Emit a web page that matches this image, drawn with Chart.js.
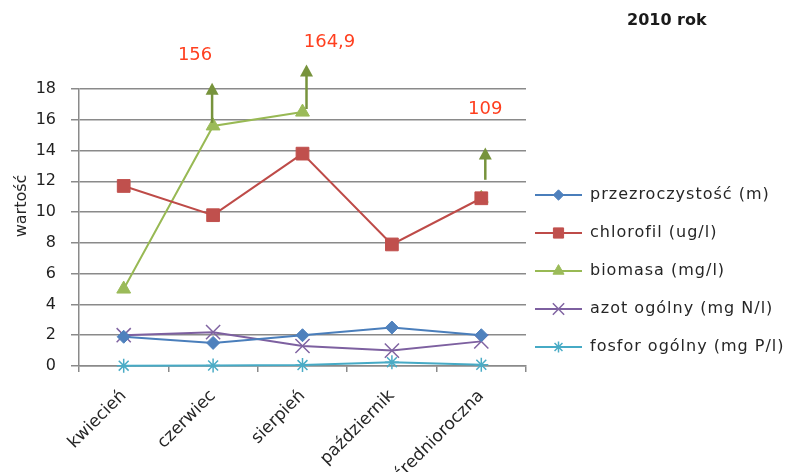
<!DOCTYPE html>
<html>
<head>
<meta charset="utf-8">
<script src="https://cdn.jsdelivr.net/npm/chart.js@4.4.1/dist/chart.umd.min.js"></script>
<style>
  html, body { margin: 0; padding: 0; background: #ffffff; }
  canvas { display: block; }
</style>
</head>
<body>
<canvas id="chart" width="796" height="472"></canvas>
<script>
// Categories (months of sampling + annual mean)
const categories = ['kwiecień', 'czerwiec', 'sierpień', 'październik', 'średnioroczna'];

// Measured series
const przezroczystosc = [1.9, 1.5, 2.0, 2.5, 2.0];
const chlorofil       = [11.7, 9.8, 13.8, 7.9, 10.9];
const biomasa         = [5.0, 15.6, 16.5, null, 10.9];
const azotOgolny      = [2.0, 2.2, 1.3, 1.0, 1.6];
const fosforOgolny    = [0.02, 0.03, 0.06, 0.25, 0.08];

// Biomass values that run past the axis, shown as arrows with their real value
const biomasaPozaSkala = [null, '156', '164,9', null, '109'];
const strzalkaOd       = [null, 15.8, 16.7, null, 12.1];
const strzalkaDo       = [null, 18.4, 19.6, null, 14.2];

// Axis range
const yMin = 0, yMax = 18, yStep = 2;

// Placement of the arrows and their labels (pixels / axis units)
const arrowLayout = [
  null,
  { dx: -1, labelDx: -18, labelY: 20.2 },
  { dx: 4,  labelDx: 27,  labelY: 21.05 },
  null,
  { dx: 4,  labelDx: 4,   labelY: 16.7 }
];

const FONT = 'DejaVu Sans';
Chart.defaults.font.family = FONT;
Chart.defaults.color = '#262626';

const series = [
  { label: 'przezroczystość (m)', data: przezroczystosc, color: '#4A7EBB', fill: '#4F81BD', style: 'rectRot', r: 6.5, bw: 1 },
  { label: 'chlorofil (ug/l)',    data: chlorofil,       color: '#BE4B48', fill: '#C0504D', style: 'rect',    r: 9,   bw: 1 },
  { label: 'biomasa (mg/l)',      data: biomasa,         color: '#98B954', fill: '#9BBB59', style: 'triangle', r: 8,  bw: 1 },
  { label: 'azot ogólny (mg N/l)',data: azotOgolny,      color: '#7D60A0', fill: '#8064A2', style: 'crossRot', r: 10, bw: 1.5 },
  { label: 'fosfor ogólny (mg P/l)', data: fosforOgolny, color: '#46AAC5', fill: '#4BACC6', style: 'star',    r: 7,   bw: 1.5 }
];

const datasets = series.map(s => ({
  label: s.label,
  data: s.data,
  borderColor: s.color,
  backgroundColor: s.fill,
  borderWidth: 2,
  pointStyle: s.style,
  pointRadius: s.r,
  pointBorderWidth: s.bw,
  pointBackgroundColor: s.fill,
  pointBorderColor: s.fill,
  tension: 0,
  spanGaps: false,
  clip: false
}));

const decorations = {
  id: 'decorations',
  afterDatasetsDraw(chart) {
    const ctx = chart.ctx;
    const xs = chart.scales.x, ys = chart.scales.y;
    ctx.save();
    // arrows for off-scale biomass values
    const arrowColor = '#77933C';
    biomasaPozaSkala.forEach((txt, i) => {
      if (txt === null) return;
      const lay = arrowLayout[i];
      const x = xs.getPixelForValue(i) + lay.dx;
      const yFrom = ys.getPixelForValue(strzalkaOd[i]);
      const yTip = ys.getPixelForValue(strzalkaDo[i]);
      const headH = 12, headW = 13;
      ctx.strokeStyle = arrowColor;
      ctx.lineWidth = 2.5;
      ctx.beginPath();
      ctx.moveTo(x, yFrom);
      ctx.lineTo(x, yTip + headH - 1);
      ctx.stroke();
      ctx.fillStyle = arrowColor;
      ctx.beginPath();
      ctx.moveTo(x, yTip);
      ctx.lineTo(x - headW / 2, yTip + headH);
      ctx.lineTo(x + headW / 2, yTip + headH);
      ctx.closePath();
      ctx.fill();
      // value label
      ctx.fillStyle = '#FF3F1F';
      ctx.font = '18px "' + FONT + '"';
      ctx.textAlign = 'center';
      ctx.textBaseline = 'middle';
      ctx.fillText(txt, xs.getPixelForValue(i) + lay.labelDx, ys.getPixelForValue(lay.labelY));
    });
    ctx.restore();
  },
  afterDraw(chart) {
    const ctx = chart.ctx;
    ctx.save();
    // title
    ctx.fillStyle = '#1a1a1a';
    ctx.font = 'bold 16px "' + FONT + '"';
    ctx.textAlign = 'left';
    ctx.textBaseline = 'middle';
    ctx.fillText('2010 rok', 627, 21);

    // y axis title
    ctx.save();
    ctx.translate(22, 206);
    ctx.rotate(-Math.PI / 2);
    ctx.font = '16px "' + FONT + '"';
    ctx.textAlign = 'center';
    ctx.textBaseline = 'middle';
    ctx.fillStyle = '#262626';
    ctx.fillText('wartość', 0, 0);
    ctx.restore();

    // legend
    const lx0 = 535, lx1 = 582, tx = 590, y0 = 195, dy = 38;
    series.forEach((s, i) => {
      const y = y0 + i * dy;
      ctx.strokeStyle = s.color;
      ctx.lineWidth = 2;
      ctx.beginPath();
      ctx.moveTo(lx0, y);
      ctx.lineTo(lx1, y);
      ctx.stroke();
      ctx.fillStyle = s.fill;
      ctx.strokeStyle = s.fill;
      ctx.lineWidth = s.bw;
      Chart.helpers.drawPoint(ctx, { pointStyle: s.style, radius: s.r * 0.8, rotation: 0, borderWidth: s.bw }, (lx0 + lx1) / 2, y);
      ctx.fillStyle = '#262626';
      ctx.font = '16px "' + FONT + '"';
      ctx.textAlign = 'left';
      ctx.textBaseline = 'middle';
      if ('letterSpacing' in ctx) ctx.letterSpacing = '1px';
      ctx.fillText(s.label, tx, y);
      if ('letterSpacing' in ctx) ctx.letterSpacing = '0px';
    });
    ctx.restore();
  }
};

new Chart(document.getElementById('chart'), {
  type: 'line',
  data: { labels: categories, datasets },
  options: {
    responsive: false,
    animation: false,
    devicePixelRatio: 1,
    layout: { padding: { top: 89, right: 270, left: 0, bottom: 0 } },
    plugins: {
      legend: { display: false },
      tooltip: { enabled: false },
      title: { display: false }
    },
    scales: {
      x: {
        type: 'category',
        offset: true,
        afterFit(scale) { scale.height = 106; },
        grid: { offset: true, drawOnChartArea: false, drawTicks: true, tickLength: 6, color: '#8a8a8a', lineWidth: 1.5 },
        border: { display: true, color: '#8a8a8a', width: 1.5 },
        ticks: {
          autoSkip: false,
          maxRotation: 45,
          minRotation: 45,
          padding: 14,
          color: '#262626',
          font: { size: 17, family: FONT }
        }
      },
      y: {
        min: yMin,
        max: yMax,
        afterFit(scale) { scale.width = 79; },
        grid: { color: '#8a8a8a', lineWidth: 1.5, drawTicks: true, tickLength: 8 },
        border: { display: true, color: '#8a8a8a', width: 1.5 },
        ticks: {
          stepSize: yStep,
          padding: 15,
          color: '#1f1f1f',
          font: { size: 16, family: FONT }
        }
      }
    }
  },
  plugins: [decorations]
});
</script>
</body>
</html>
